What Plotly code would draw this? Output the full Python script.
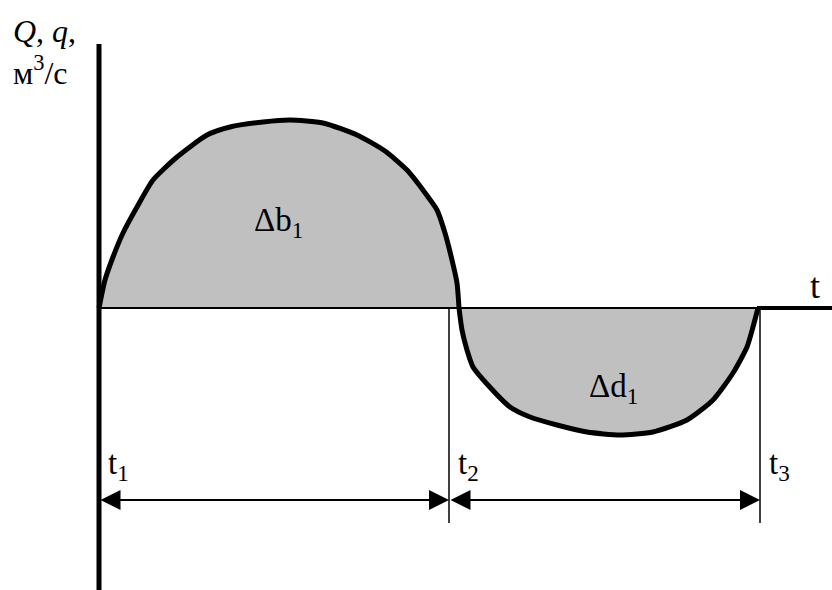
import plotly.graph_objects as go

# ---- data (time units / flow units, origin at t1) ----
t_inflow = [0, 6, 14, 24, 38, 54, 78, 108, 131, 164, 191, 224, 258, 286, 308, 324, 338, 346, 353, 358, 360]
q_inflow = [0, 28, 51, 75, 101, 128, 151, 173, 181, 186, 188, 185, 173, 157, 138, 118, 98, 75, 48, 25, 0]

t_outflow = [360, 363, 368, 374, 388, 411, 431, 458, 488, 521, 554, 588, 614, 634, 648, 654, 659]
q_outflow = [0, -22, -42, -59, -76, -99, -109, -117, -124, -127, -124, -112, -92, -65, -39, -19, 0]

t_marks = [0, 350, 661]
t_mark_labels = ["t<sub>1</sub>", "t<sub>2</sub>", "t<sub>3</sub>"]
area_labels = ["Δb<sub>1</sub>", "Δd<sub>1</sub>"]
y_title = "<i>Q</i>, <i>q</i>,<br>м<sup>3</sup>/с"
x_title = "t"

X_MIN, X_MAX = -99, 733
Y_MIN, Y_MAX = -282, 308
AXIS_TOP = 264
MARK_BOTTOM = -215
ARROW_Y = -192
LABEL_Y = -157

FONT = "Liberation Serif, Times New Roman, Times, serif"
GREY = "#c0c0c0"

fig = go.Figure()

# shaded areas
for tt, qq in [(t_inflow, q_inflow), (t_outflow, q_outflow)]:
    fig.add_trace(go.Scatter(x=tt, y=qq, mode="lines", fill="tozeroy",
                             fillcolor=GREY,
                             line=dict(color="black", width=5, shape="spline", smoothing=0.6),
                             hoverinfo="skip", showlegend=False))

shapes = []
# vertical axis (thick)
shapes.append(dict(type="line", xref="x", yref="y", x0=0, x1=0, y0=Y_MIN - 10, y1=AXIS_TOP,
                   line=dict(color="black", width=5)))
# time axis
shapes.append(dict(type="line", xref="x", yref="y", x0=0, x1=t_marks[2], y0=0, y1=0,
                   line=dict(color="black", width=2)))
shapes.append(dict(type="line", xref="x", yref="y", x0=t_marks[2] - 3, x1=X_MAX + 5, y0=0, y1=0,
                   line=dict(color="black", width=4)))
# thin marker lines at t2, t3
for tm in t_marks[1:]:
    shapes.append(dict(type="line", xref="x", yref="y", x0=tm, x1=tm, y0=0, y1=MARK_BOTTOM,
                       line=dict(color="black", width=1.5)))

annotations = []
# double-headed interval arrows
for a, b in [(t_marks[0], t_marks[1]), (t_marks[1], t_marks[2])]:
    annotations.append(dict(x=b, y=ARROW_Y, ax=a, ay=ARROW_Y, xref="x", yref="y",
                            axref="x", ayref="y", text="", showarrow=True,
                            arrowhead=2, startarrowhead=2, arrowside="end+start",
                            arrowsize=2, startarrowsize=2, arrowwidth=2,
                            arrowcolor="black"))

# t labels
for tm, lab in zip(t_marks, t_mark_labels):
    annotations.append(dict(x=tm + 7, y=LABEL_Y, xref="x", yref="y", text=lab,
                            showarrow=False, xanchor="left",
                            font=dict(family=FONT, size=33, color="black")))

# area labels
annotations.append(dict(x=179, y=86, xref="x", yref="y", text=area_labels[0], showarrow=False,
                        font=dict(family=FONT, size=33, color="black")))
annotations.append(dict(x=514, y=-80, xref="x", yref="y", text=area_labels[1], showarrow=False,
                        font=dict(family=FONT, size=33, color="black")))

# axis titles
annotations.append(dict(x=716, y=22, xref="x", yref="y", text=x_title, showarrow=False,
                        font=dict(family=FONT, size=36, color="black")))
annotations.append(dict(x=-88, y=256, xref="x", yref="y", text=y_title,
                        showarrow=False, xanchor="left", yanchor="middle", align="left",
                        font=dict(family=FONT, size=32, color="black")))

fig.update_layout(
    width=832, height=590,
    margin=dict(l=0, r=0, t=0, b=0, pad=0),
    paper_bgcolor="white", plot_bgcolor="white",
    xaxis=dict(range=[X_MIN, X_MAX], visible=False, fixedrange=True),
    yaxis=dict(range=[Y_MIN, Y_MAX], visible=False, fixedrange=True),
    shapes=shapes, annotations=annotations, showlegend=False,
)

fig.write_html("out.html", config={"displayModeBar": False},
               post_script="document.body.style.margin='0px';document.body.style.overflow='hidden';")
